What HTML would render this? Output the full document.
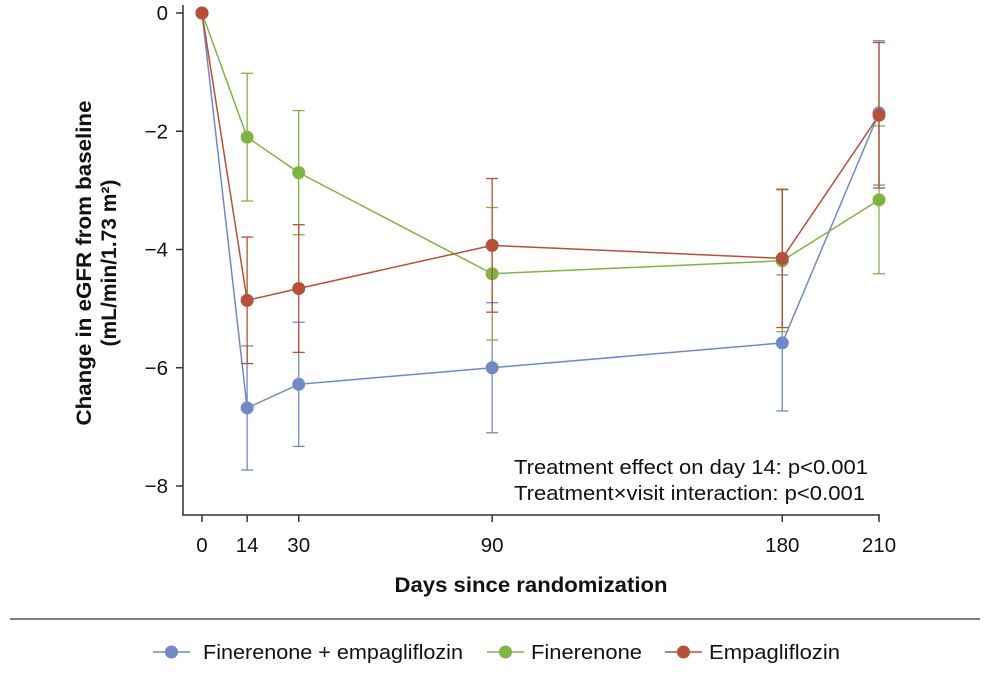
<!DOCTYPE html>
<html><head><meta charset="utf-8"><style>
body{margin:0;background:#fff;font-family:"Liberation Sans",Arial,sans-serif;}
svg text{font-family:"Liberation Sans",Arial,sans-serif;fill:#111;}
</style></head><body>
<svg id="chart" width="992" height="693" viewBox="0 0 992 693"></svg>
<script>
const days=[0,14,30,90,180,210];
const xTicks=[0,14,30,90,180,210];
const yTicks=[0,-2,-4,-6,-8];
const blueVals=[0,-6.68,-6.28,-6.0,-5.58,-1.69];
const blueErr=[0,1.05,1.05,1.1,1.15,1.22];
const greenVals=[0,-2.1,-2.7,-4.41,-4.19,-3.16];
const greenErr=[0,1.08,1.05,1.12,1.2,1.25];
const redVals=[0,-4.86,-4.66,-3.93,-4.15,-1.73];
const redErr=[0,1.07,1.08,1.13,1.17,1.23];
const NS="http://www.w3.org/2000/svg";
const svg=document.getElementById('chart');
const X=d=>202+d*(677/210);
const Y=v=>13-v*(473/8);
function mk(t,a,p){const e=document.createElementNS(NS,t);for(const k in a)e.setAttribute(k,a[k]);(p||svg).appendChild(e);return e;}
let ya=mk('line',{x1:183,y1:5,x2:183,y2:515,stroke:'#333','stroke-width':1.5});


let xa=mk('line',{x1:182,y1:515,x2:880,y2:515,stroke:'#333','stroke-width':1.5});


yTicks.forEach(v=>{
 mk('line',{x1:176,y1:Y(v),x2:183,y2:Y(v),stroke:'#333','stroke-width':1.5});
 const t=mk('text',{x:168,y:Y(v)+7,'text-anchor':'end','font-size':20.5});
 t.textContent=v===0?'0':'−'+Math.abs(v);
 
 
});
xTicks.forEach(d=>{
 mk('line',{x1:X(d),y1:515,x2:X(d),y2:522,stroke:'#333','stroke-width':1.5});
 const t=mk('text',{x:X(d),y:552,'text-anchor':'middle','font-size':20.5});
 t.textContent=d;
 
 
});
function series(vals,errs,col,name){
 const g=mk('g',{});
 
 
 days.forEach((d,i)=>{if(errs[i]>0){
  const x=X(d),y1=Y(vals[i]+errs[i]),y2=Y(vals[i]-errs[i]);
  mk('line',{x1:x,y1:y1,x2:x,y2:y2,stroke:col,'stroke-width':1.3},g);
  mk('line',{x1:x-6,y1:y1,x2:x+6,y2:y1,stroke:col,'stroke-width':1.3},g);
  mk('line',{x1:x-6,y1:y2,x2:x+6,y2:y2,stroke:col,'stroke-width':1.3},g);
 }});
 mk('polyline',{points:days.map((d,i)=>X(d)+','+Y(vals[i])).join(' '),fill:'none',stroke:col,'stroke-width':1.5},g);
 days.forEach((d,i)=>{const c=mk('circle',{cx:X(d),cy:Y(vals[i]),r:6.5,fill:col},g);
  
  });
}
series(blueVals,blueErr,'#7189c4','finerenone-empagliflozin');
series(greenVals,greenErr,'#7fb444','finerenone');
series(redVals,redErr,'#b5503a','empagliflozin');
function txt(x,y,s,attrs,name){const t=mk('text',Object.assign({x:x,y:y},attrs));t.textContent=s;
 
 return t;}
txt(514,474,'Treatment effect on day 14: p<0.001',{'font-size':20,textLength:354,lengthAdjust:'spacingAndGlyphs'},'annotation-day14');
txt(514,500,'Treatment×visit interaction: p<0.001',{'font-size':20,textLength:351,lengthAdjust:'spacingAndGlyphs'},'annotation-interaction');
txt(531,592,'Days since randomization',{'font-size':21,'font-weight':'bold','text-anchor':'middle',textLength:273,lengthAdjust:'spacingAndGlyphs'},'x-axis-title');
const yt=mk('text',{transform:'translate(91,263) rotate(-90)','text-anchor':'middle','font-size':21,'font-weight':'bold'});


const s1=mk('tspan',{x:0,y:0,textLength:325,lengthAdjust:'spacingAndGlyphs'},yt);s1.textContent='Change in eGFR from baseline';
const s2=mk('tspan',{x:0,y:25},yt);s2.textContent='(mL/min/1.73 m²)';
mk('line',{x1:10,y1:619,x2:980,y2:619,stroke:'#333','stroke-width':1.2});
const leg=[['Finerenone + empagliflozin','#7189c4',153,203,260],['Finerenone','#7fb444',487,531,111],['Empagliflozin','#b5503a',665,709,131]];
leg.forEach(l=>{const g=mk('g',{});
 
 
 mk('line',{x1:l[2],y1:652,x2:l[2]+37,y2:652,stroke:l[1],'stroke-width':1.5},g);
 mk('circle',{cx:l[2]+18.5,cy:652,r:6.5,fill:l[1]},g);
 const t=mk('text',{x:l[3],y:659,'font-size':20,textLength:l[4],lengthAdjust:'spacingAndGlyphs'},g);t.textContent=l[0];});
</script>
</body></html>
